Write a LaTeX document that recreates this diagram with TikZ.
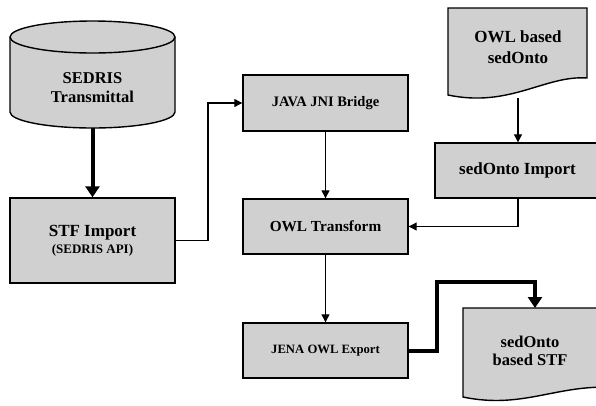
\documentclass[tikz,border=0pt]{standalone}
\usepackage{fontspec}
\setmainfont{Liberation Serif}
\usetikzlibrary{arrows.meta}
\definecolor{boxgray}{RGB}{208,208,208}
\begin{document}
\begin{tikzpicture}[x=1pt,y=-1pt,
  box/.style={draw=black, line width=1.4pt, fill=boxgray, minimum width=165pt,
    align=center, inner sep=2pt},
  thin/.style={line width=1.1pt, -{Triangle[length=8pt,width=8pt]}},
  heavy/.style={line width=4pt, -{Triangle[length=11pt,width=14pt]}},
  shapeline/.style={line width=1.4pt}]
\useasboundingbox (0,0) rectangle (596,405);
\clip (0,0) rectangle (596,405);

% database cylinder
\draw[shapeline, fill=boxgray]
  (10,37) -- (10,112) arc[start angle=180, end angle=0, x radius=82.5, y radius=16]
  -- (175,37) arc[start angle=0, end angle=-180, x radius=82.5, y radius=16] -- cycle;
\draw[shapeline] (10,37) arc[start angle=180, end angle=0, x radius=82.5, y radius=16];
\node[font=\fontsize{16.5}{19}\selectfont\bfseries, align=center] (sedris) at (92.5,88)
  {SEDRIS\\Transmittal};
\coordinate (sedrisbot) at (92.5,128);

% document shapes
\draw[shapeline, fill=boxgray]
  (448,8) -- (587,8) -- (587,78) .. controls (545,75) and (510,108) .. (448,95) -- cycle;
\node[font=\fontsize{17}{21}\selectfont\bfseries, align=center] (owldoc) at (518,47.5)
  {OWL based\\sedOnto};
\coordinate (owldocbot) at (518,98);

\draw[shapeline, fill=boxgray]
  (463,308) -- (620,308) -- (620,388) .. controls (560,382) and (525,410) .. (463,397) -- cycle;
\node[font=\fontsize{16.5}{18}\selectfont\bfseries, align=center] (stfdoc) at (530,351)
  {sedOnto\\based STF};
\coordinate (stfdoctop) at (535,308);

% process boxes
\node[box, minimum height=85pt, font=\fontsize{17}{19}\selectfont\bfseries] (stf) at (92.5,240.5)
  {STF Import\\[-2pt]{\fontsize{13}{15}\selectfont (SEDRIS API)}};
\node[box, minimum height=56pt, font=\fontsize{14.5}{17}\selectfont\bfseries] (jni) at (325.5,103)
  {JAVA JNI Bridge};
\node[box, minimum height=55pt, font=\fontsize{15.3}{17}\selectfont\bfseries] (owlt) at (325.5,226.5)
  {OWL Transform};
\node[box, minimum height=55pt, font=\fontsize{12.7}{15}\selectfont\bfseries] (jena) at (325.5,350.5)
  {JENA OWL Export};
\node[box, minimum height=55pt, font=\fontsize{17}{19}\selectfont\bfseries]
  (sedimp) at (517.5,170.5) {sedOnto Import};

% connectors
\draw[heavy] (sedrisbot) -- (stf.north);
\draw[thin] (stf.east) -| (208,103) -- (jni.west);
\draw[thin] (jni.south) -- (owlt.north);
\draw[thin] (owldocbot) -- (sedimp.north -| owldocbot);
\draw[thin] (sedimp.south -| owldocbot) |- (owlt.east);
\draw[thin] (owlt.south) -- (jena.north);
\draw[heavy] (jena.east) -- (437,350.5) -- (437,282) -| (stfdoctop);
\end{tikzpicture}
\end{document}
